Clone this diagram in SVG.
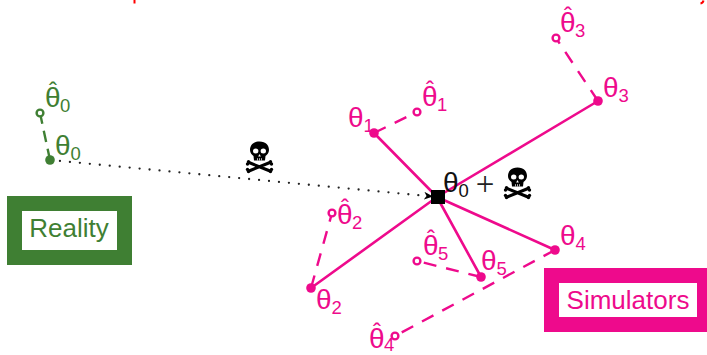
<svg xmlns="http://www.w3.org/2000/svg" width="707" height="355" viewBox="0 0 707 355">
<style>
text{font-family:"Liberation Sans",Arial,sans-serif}
.g{fill:#3f7f33}.p{fill:#ee0a8c}
.t{font-size:28px}
.t tspan{font-size:18.5px}
.t tspan.h{font-size:24px}
.ps{stroke:#ee0a8c;fill:none;stroke-width:2.6}
.pd{stroke:#ee0a8c;fill:none;stroke-width:2.4;stroke-dasharray:13 10}
.gd{stroke:#3f7f33;fill:none;stroke-width:2.4;stroke-dasharray:11.5 7}
.oh{fill:#fff;stroke-width:2.4}
.lb{font-size:26px;text-anchor:middle}
</style>
<defs>
<marker id="ah" markerWidth="9" markerHeight="8" refX="8" refY="4" orient="auto" markerUnits="userSpaceOnUse"><path d="M0 0L9 4L0 8L2.5 4Z" fill="#000"/></marker>
<g id="sk">
<path d="M0 -15.5C6.5 -15.5 9.5 -11.5 9.5 -7C9.5 -4 7.5 -2 6 -1L5.5 3.5L-5.5 3.5L-6 -1C-7.5 -2 -9.5 -4 -9.5 -7C-9.5 -11.5 -6.5 -15.5 0 -15.5Z" fill="#000"/>
<ellipse cx="-3.8" cy="-6" rx="2.7" ry="2.5" fill="#fff"/><ellipse cx="3.8" cy="-6" rx="2.7" ry="2.5" fill="#fff"/>
<path d="M0 -3L1.3 -.5L-1.3 -.5Z" fill="#fff"/>
<path d="M-2 1.2V3.5M0 1.2V3.5M2 1.2V3.5" stroke="#fff" stroke-width=".7"/>
<path d="M-10.5 5.5L10.5 14M10.5 5.5L-10.5 14" stroke="#000" stroke-width="3" fill="none"/>
<circle cx="-11" cy="4.8" r="1.7"/><circle cx="-12" cy="7" r="1.7"/><circle cx="11" cy="4.8" r="1.7"/><circle cx="12" cy="7" r="1.7"/>
<circle cx="-11" cy="14.6" r="1.7"/><circle cx="-12" cy="12.4" r="1.7"/><circle cx="11" cy="14.6" r="1.7"/><circle cx="12" cy="12.4" r="1.7"/>
</g>
</defs>
<g id="clipped-top"><path d="M134.5 0V3.5M703.5 0.5Q703 3 700.5 3.5" stroke="#f00" stroke-width="2" fill="none"/></g>
<g id="connectors">
<path d="M50 160L432 196.5" stroke="#222" stroke-width="2.3" stroke-linecap="round" stroke-dasharray="0 10" marker-end="url(#ah)" fill="none"/>
<path class="ps" d="M374 133L437 197M598 101L437 197M311 288L437 197M555 250L437 197M481 277L437 197"/>
<path class="gd" d="M50 160L40 113"/>
<path class="pd" d="M374 133L417 112M598 101L556 38M311 288L332 213M481 277L417 261M555 250L395 336"/>
</g>
<g id="center"><rect x="431" y="190" width="14" height="14" fill="#000"/>
<text x="443" y="192" class="t" fill="#111">θ<tspan dy="5">0</tspan></text>
<text x="485" y="195" font-size="33" fill="#222" text-anchor="middle" style="font-family:'Liberation Serif',serif">+</text>
<use href="#sk" x="517.5" y="183"/>
</g>
<g id="skull"><use href="#sk" x="259.5" y="157"/></g>
<g id="reality-theta0">
<circle cx="50" cy="160" r="4.8" class="g"/>
<circle cx="40" cy="113" r="3.4" class="oh" stroke="#3f7f33"/>
<text x="55" y="155" class="t g">θ<tspan dy="5">0</tspan></text>
<text x="45" y="107" class="t g">θ<tspan class="h" dx="-11.5" dy="-8">ˆ</tspan><tspan dx="3" dy="13">0</tspan></text>
</g>
<g id="reality"><rect x="7" y="196" width="125" height="69" class="g"/><rect x="22" y="211" width="95" height="39" fill="#fff"/><text x="69" y="237" class="lb g">Reality</text></g>
<g id="theta1"><circle cx="374" cy="133" r="4.8" class="p"/><circle cx="417" cy="112" r="3.4" class="oh" stroke="#ee0a8c"/>
<text x="348" y="127" class="t p">θ<tspan dy="5">1</tspan></text>
<text x="422" y="106" class="t p">θ<tspan class="h" dx="-11.5" dy="-8">ˆ</tspan><tspan dx="3" dy="13">1</tspan></text></g>
<g id="theta2"><circle cx="311" cy="288" r="4.8" class="p"/><circle cx="332" cy="213" r="3.4" class="oh" stroke="#ee0a8c"/>
<text x="316" y="309" class="t p">θ<tspan dy="5">2</tspan></text>
<text x="337" y="224" class="t p">θ<tspan class="h" dx="-11.5" dy="-8">ˆ</tspan><tspan dx="3" dy="13">2</tspan></text></g>
<g id="theta3"><circle cx="598" cy="101" r="4.8" class="p"/><circle cx="556" cy="38" r="3.4" class="oh" stroke="#ee0a8c"/>
<text x="603" y="97" class="t p">θ<tspan dy="5">3</tspan></text>
<text x="560" y="32" class="t p">θ<tspan class="h" dx="-11.5" dy="-8">ˆ</tspan><tspan dx="3" dy="13">3</tspan></text></g>
<g id="theta4"><circle cx="555" cy="250" r="4.8" class="p"/><circle cx="395" cy="336" r="3.4" class="oh" stroke="#ee0a8c"/>
<text x="560" y="245" class="t p">θ<tspan dy="5">4</tspan></text>
<text x="369" y="348" class="t p">θ<tspan class="h" dx="-11.5" dy="-8">ˆ</tspan><tspan dx="3" dy="11">4</tspan></text></g>
<g id="theta5"><circle cx="481" cy="277" r="4.8" class="p"/><circle cx="417" cy="261" r="3.4" class="oh" stroke="#ee0a8c"/>
<text x="481" y="270" class="t p">θ<tspan dy="5">5</tspan></text>
<text x="423" y="255" class="t p">θ<tspan class="h" dx="-11.5" dy="-8">ˆ</tspan><tspan dx="3" dy="13">5</tspan></text></g>
<g id="simulators"><rect x="544" y="268" width="163" height="64" class="p"/><rect x="559" y="283" width="138" height="34" fill="#fff"/><text x="628" y="309" class="lb p">Simulators</text></g>
</svg>
